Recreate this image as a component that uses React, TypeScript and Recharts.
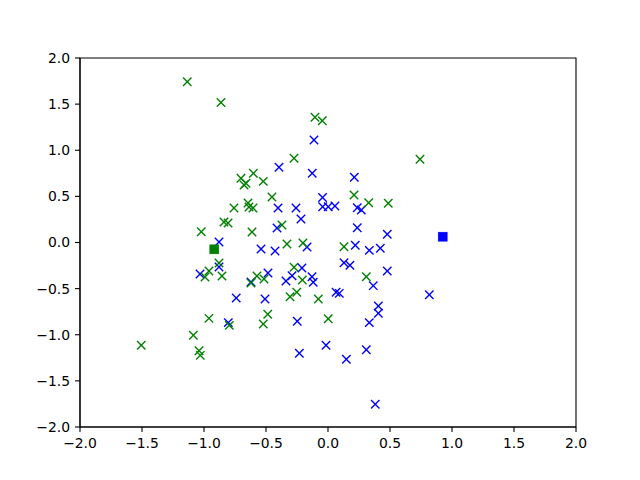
import React from 'react';
import { ScatterChart, Scatter, XAxis, YAxis, ReferenceArea } from 'recharts';

// blue samples (x marks)
const blueX = [-0.113, -0.395, -0.127, 0.212, -0.044, -0.403, -0.258, -0.043, 0.002, 0.056, 0.236, 0.269, -0.218, -0.411, 0.236, 0.478, -0.879, -0.54, -0.427, -0.169, 0.22, 0.333, 0.422, -0.879, -1.032, -0.484, -0.621, -0.21, -0.339, -0.29, -0.129, -0.119, 0.129, 0.177, 0.478, 0.365, -0.74, -0.508, 0.065, 0.091, 0.817, -0.804, -0.248, 0.406, 0.406, 0.333, -0.016, -0.231, 0.309, 0.148, 0.381];
const blueY = [1.111, 0.815, 0.75, 0.707, 0.488, 0.374, 0.374, 0.388, 0.388, 0.396, 0.377, 0.352, 0.255, 0.157, 0.16, 0.089, 0.005, -0.07, -0.092, -0.049, -0.03, -0.085, -0.063, -0.266, -0.341, -0.331, -0.428, -0.276, -0.417, -0.36, -0.371, -0.431, -0.219, -0.247, -0.309, -0.468, -0.602, -0.612, -0.54, -0.551, -0.566, -0.869, -0.854, -0.688, -0.767, -0.869, -1.114, -1.201, -1.162, -1.266, -1.754];

// green samples (x marks)
const greenX = [-1.135, -0.863, -0.105, -0.046, -0.274, 0.742, -0.602, -0.702, -0.661, -0.677, -0.522, -0.452, 0.21, 0.328, 0.486, -0.645, -0.637, -0.605, -0.758, -0.839, -0.806, -0.371, -1.022, -0.613, -0.331, -0.202, 0.129, -0.879, -0.96, -0.992, -0.855, -0.573, -0.516, -0.621, -0.274, -0.207, 0.309, -0.306, -0.252, -0.078, 0.002, -0.486, -0.522, -0.96, -0.796, -1.086, -1.04, -1.03, -1.506];
const greenY = [1.743, 1.518, 1.358, 1.32, 0.913, 0.902, 0.75, 0.696, 0.642, 0.623, 0.663, 0.493, 0.515, 0.431, 0.425, 0.428, 0.385, 0.374, 0.374, 0.222, 0.211, 0.19, 0.117, 0.114, -0.016, -0.005, -0.046, -0.222, -0.309, -0.374, -0.363, -0.363, -0.396, -0.439, -0.269, -0.407, -0.371, -0.588, -0.54, -0.612, -0.826, -0.778, -0.883, -0.822, -0.898, -1.006, -1.173, -1.223, -1.114];

// cluster centres (square marks)
const blueCentre = [{ x: 0.925, y: 0.063 }];
const greenCentre = [{ x: -0.917, y: -0.074 }];

const ticks = [-2, -1.5, -1, -0.5, 0, 0.5, 1, 1.5, 2];

const toPoints = (xs: number[], ys: number[]) => xs.map((x, i) => ({ x, y: ys[i] }));
const blueData = toPoints(blueX, blueY);
const greenData = toPoints(greenX, greenY);

const fmt = (v: number) => v.toFixed(1).replace('-', '\u2212');

const cross = (color: string) => (props: any) => {
  const { cx, cy } = props;
  const r = 4.2;
  return (
    <g stroke={color} strokeWidth={1.4}>
      <line x1={cx - r} y1={cy - r} x2={cx + r} y2={cy + r} />
      <line x1={cx - r} y1={cy + r} x2={cx + r} y2={cy - r} />
    </g>
  );
};

const square = (color: string) => (props: any) => {
  const { cx, cy } = props;
  return <rect x={cx - 4.5} y={cy - 4.5} width={9} height={9} fill={color} stroke={color} strokeWidth={0.5} />;
};

const tickStyle = { fill: '#000', fontSize: 13.9, fontFamily: 'DejaVu Sans' };

export default function App() {
  return (
    <div style={{ position: 'absolute', left: 0, top: 0, width: 640, height: 480, background: '#fff' }}>
      <ScatterChart width={640} height={480} margin={{ top: 58, right: 64, left: 0, bottom: 0 }}>
        <XAxis
          type="number"
          dataKey="x"
          domain={[-2, 2]}
          ticks={ticks}
          tickFormatter={fmt}
          allowDataOverflow
          height={53}
          tickSize={5}
          tickMargin={6}
          tick={tickStyle}
          axisLine={{ stroke: '#000', strokeWidth: 1.1 }}
          tickLine={{ stroke: '#000', strokeWidth: 1.1 }}
        />
        <YAxis
          type="number"
          dataKey="y"
          domain={[-2, 2]}
          ticks={ticks}
          tickFormatter={fmt}
          allowDataOverflow
          width={80}
          tickSize={5}
          tickMargin={5}
          tick={tickStyle}
          axisLine={{ stroke: '#000', strokeWidth: 1.1 }}
          tickLine={{ stroke: '#000', strokeWidth: 1.1 }}
        />
        <ReferenceArea x1={-2} x2={2} y1={-2} y2={2} fill="none" stroke="#000" strokeWidth={1.1} />
        <Scatter data={blueData} shape={cross('#0000ff')} isAnimationActive={false} />
        <Scatter data={greenData} shape={cross('#008000')} isAnimationActive={false} />
        <Scatter data={greenCentre} shape={square('#008000')} isAnimationActive={false} />
        <Scatter data={blueCentre} shape={square('#0000ff')} isAnimationActive={false} />
      </ScatterChart>
    </div>
  );
}
